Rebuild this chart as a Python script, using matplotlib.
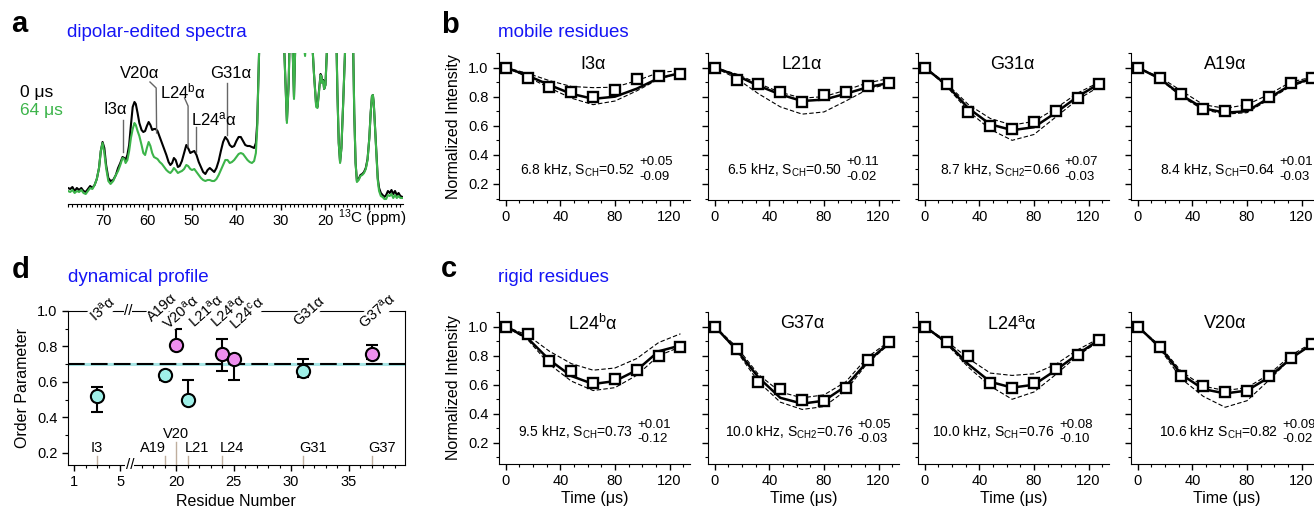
import matplotlib
matplotlib.use('Agg')
from matplotlib import pyplot as plt
from matplotlib.ticker import MultipleLocator, FixedLocator, NullFormatter

plt.rcParams['font.family'] = ['Liberation Sans', 'DejaVu Sans']
plt.rcParams['mathtext.fontset'] = 'custom'
plt.rcParams['mathtext.rm'] = 'Liberation Sans'
plt.rcParams['mathtext.it'] = 'Liberation Sans:italic'
plt.rcParams['mathtext.bf'] = 'Liberation Sans:bold'

# ---------------- panel a: spectra (ppm, intensity) ----------------
ppm_alpha = [78.0, 77.5, 77.0, 76.5, 76.0, 75.5, 75.0, 74.5, 74.0, 73.5, 73.0, 72.5, 72.0,
             71.5, 71.0, 70.6, 70.2, 69.8, 69.4, 68.9, 68.4, 67.8, 67.2, 66.7, 66.2, 65.7,
             65.3, 65.0, 64.6, 64.2, 63.8, 63.4, 63.0, 62.7, 62.3, 61.9, 61.4, 61.0, 60.6,
             60.2, 59.8, 59.4, 59.0, 58.6, 58.2, 57.8, 57.3, 56.8, 56.3, 55.8, 55.3, 54.9,
             54.5, 54.1, 53.7, 53.2, 52.8, 52.3, 51.8, 51.3, 50.9, 50.4, 50.0, 49.5, 49.0,
             48.5, 48.0, 47.5, 47.0, 46.5, 46.0, 45.5, 45.0, 44.5, 44.0, 43.5, 43.0, 42.5,
             42.0, 41.5, 41.0, 40.5, 40.0, 39.5, 39.0, 38.5, 38.0, 37.5, 37.0, 36.5, 36.0,
             35.6, 35.3]
alpha_0us = [5, 4, 6, 2, 5, 3, 5, 2, 1, 4, 7, 5, 8,
             14, 25, 42, 51, 45, 28, 15, 12, 13, 18, 25, 30, 36,
             35, 33, 38, 48, 68, 86, 91, 89, 80, 70, 63, 61, 62,
             67, 71, 68, 63, 64, 64, 62, 56, 50, 44, 38, 31, 28,
             30, 35, 33, 26, 27, 32, 40, 48, 45, 40, 41, 42, 38,
             31, 26, 21, 19, 23, 25, 23, 21, 25, 32, 42, 51, 56,
             53, 48, 46, 47, 52, 56, 56, 52, 48, 47, 47, 46, 45,
             50, 70]
alpha_64us = [2, 1, 3, 0, 2, 1, 3, 0, -1, 2, 5, 4, 8,
              14, 25, 42, 50, 40, 25, 12, 9, 12, 18, 22, 28, 35,
              34, 30, 33, 42, 55, 64, 70, 68, 62, 57, 48, 40, 38,
              45, 51, 47, 40, 36, 35, 34, 31, 29, 26, 23, 21, 20,
              22, 25, 23, 20, 21, 22, 24, 28, 27, 24, 23, 24, 21,
              18, 15, 13, 12, 13, 13, 12, 12, 14, 18, 23, 28, 33,
              33, 30, 31, 33, 36, 39, 40, 39, 36, 33, 31, 30, 32,
              40, 65]

ppm_ali = [35.0, 34.7, 34.0, 30.0, 29.5, 29.0, 28.6, 28.2, 27.9, 27.4, 27.0, 26.7, 26.2,
           24.5, 23.5, 23.0, 22.5, 22.0, 21.7, 21.3, 21.0, 20.8, 20.6, 20.4, 20.2, 19.9,
           19.5, 19.0, 18.0, 17.5, 17.2, 16.9, 16.6, 16.3, 15.9, 15.5, 15.0, 14.0, 13.7,
           13.4, 13.1, 12.8, 12.4, 12.0, 11.6, 11.2, 10.8, 10.4, 10.0, 9.7, 9.4, 9.2,
           9.0, 8.7, 8.4, 8.1, 7.8, 7.4, 7.0, 6.6, 6.2, 5.8, 5.4, 5.0, 4.6, 4.2, 3.8,
           3.4, 3.0, 2.5]
ali_0us = [120, 170, 220, 220, 180, 120, 72, 110, 170, 160, 96, 150, 200,
           200, 200, 160, 120, 88, 86, 105, 119, 117, 110, 113, 104, 108,
           150, 210, 220, 170, 100, 50, 31, 45, 90, 140, 200, 200, 160,
           80, 30, 12, 14, 18, 19, 21, 25, 34, 55, 80, 97, 98,
           90, 65, 40, 15, 5, 0, -2, -4, -2, 2, 0, 3, -1, 2, -2,
           0, -3, -4]
ali_64us = [120, 170, 220, 220, 180, 120, 70, 110, 170, 160, 94, 150, 200,
            137, 200, 160, 120, 86, 85, 104, 118, 116, 110, 112, 104, 108,
            150, 210, 220, 170, 100, 50, 30, 45, 90, 140, 200, 200, 160,
            80, 30, 11, 13, 17, 18, 20, 24, 33, 55, 80, 97, 98,
            90, 65, 40, 13, 2, -3, -4, -6, -6, -2, -3, -1, -5, -2, -5,
            -3, -5, -5]

spec_labels = ['I3α', 'V20α', 'L24$^{\\rm b}$α', 'L24$^{\\rm a}$α', 'G31α']
spec_label_xy = [(67.4, 83), (61.9, 120), (52.0, 102), (45.0, 74), (41.2, 120)]
spec_leaders = [([65.7, 65.7], [73, 41]),
                ([59.5, 58.1, 58.0], [111, 105, 60]),
                ([51.7, 50.9, 50.9], [95, 87, 46]),
                ([49.1, 49.1], [66, 41]),
                ([42.1, 42.1], [110, 58])]

# ---------------- panels b, c: dephasing curves ----------------
times = [0, 16, 32, 48, 64, 80, 96, 112, 128]

i3_meas = [1.0, 0.93, 0.867, 0.833, 0.80, 0.847, 0.922, 0.945, 0.954]
i3_fit = [1.0, 0.945, 0.88, 0.82, 0.785, 0.80, 0.855, 0.927, 0.962]
i3_hi = [1.0, 0.96, 0.91, 0.87, 0.862, 0.865, 0.91, 0.965, 0.98]
i3_lo = [1.0, 0.935, 0.86, 0.79, 0.745, 0.77, 0.84, 0.92, 0.965]

l21_meas = [1.0, 0.915, 0.888, 0.83, 0.76, 0.81, 0.833, 0.874, 0.897]
l21_fit = [1.0, 0.945, 0.875, 0.815, 0.77, 0.78, 0.82, 0.865, 0.895]
l21_hi = [1.0, 0.955, 0.89, 0.83, 0.79, 0.80, 0.845, 0.895, 0.925]
l21_lo = [1.0, 0.925, 0.82, 0.73, 0.68, 0.695, 0.77, 0.85, 0.89]

g31_meas = [1.0, 0.886, 0.696, 0.60, 0.577, 0.627, 0.70, 0.792, 0.89]
g31_fit = [1.0, 0.88, 0.72, 0.61, 0.57, 0.59, 0.69, 0.80, 0.89]
g31_hi = [1.0, 0.89, 0.745, 0.65, 0.605, 0.63, 0.72, 0.825, 0.90]
g31_lo = [1.0, 0.87, 0.70, 0.575, 0.50, 0.54, 0.66, 0.78, 0.87]

a19_meas = [1.0, 0.927, 0.82, 0.714, 0.703, 0.746, 0.797, 0.897, 0.927]
a19_fit = [1.0, 0.925, 0.81, 0.72, 0.69, 0.70, 0.79, 0.88, 0.925]
a19_hi = [1.0, 0.935, 0.84, 0.745, 0.72, 0.745, 0.815, 0.90, 0.935]
a19_lo = [1.0, 0.92, 0.80, 0.71, 0.68, 0.69, 0.78, 0.87, 0.92]

l24b_meas = [1.0, 0.947, 0.76, 0.696, 0.61, 0.641, 0.703, 0.80, 0.86]
l24b_fit = [1.0, 0.92, 0.77, 0.66, 0.605, 0.625, 0.70, 0.83, 0.87]
l24b_hi = [1.0, 0.94, 0.83, 0.745, 0.70, 0.715, 0.78, 0.89, 0.95]
l24b_lo = [1.0, 0.91, 0.74, 0.625, 0.56, 0.58, 0.665, 0.80, 0.86]

g37_meas = [1.0, 0.845, 0.618, 0.57, 0.497, 0.486, 0.577, 0.77, 0.897]
g37_fit = [1.0, 0.84, 0.65, 0.51, 0.47, 0.49, 0.59, 0.76, 0.89]
g37_hi = [1.0, 0.86, 0.67, 0.55, 0.51, 0.53, 0.62, 0.79, 0.90]
g37_lo = [1.0, 0.83, 0.62, 0.48, 0.43, 0.45, 0.56, 0.75, 0.88]

l24a_meas = [1.0, 0.893, 0.80, 0.609, 0.58, 0.609, 0.707, 0.806, 0.909]
l24a_fit = [1.0, 0.89, 0.74, 0.62, 0.58, 0.60, 0.70, 0.81, 0.91]
l24a_hi = [1.0, 0.90, 0.78, 0.68, 0.664, 0.675, 0.74, 0.84, 0.92]
l24a_lo = [1.0, 0.88, 0.72, 0.59, 0.50, 0.55, 0.67, 0.80, 0.90]

v20_meas = [1.0, 0.856, 0.657, 0.589, 0.547, 0.559, 0.657, 0.787, 0.879]
v20_fit = [1.0, 0.86, 0.67, 0.57, 0.54, 0.56, 0.65, 0.78, 0.88]
v20_hi = [1.0, 0.87, 0.69, 0.59, 0.56, 0.58, 0.67, 0.80, 0.89]
v20_lo = [1.0, 0.85, 0.64, 0.52, 0.445, 0.49, 0.63, 0.78, 0.88]

mobile_titles = ['I3α', 'L21α', 'G31α', 'A19α']
rigid_titles = ['L24$^{\\rm b}$α', 'G37α', 'L24$^{\\rm a}$α', 'V20α']
mobile_notes = ['6.8 kHz, S$_{\\rm CH}$=0.52', '6.5 kHz, S$_{\\rm CH}$=0.50',
                '8.7 kHz, S$_{\\rm CH2}$=0.66', '8.4 kHz, S$_{\\rm CH}$=0.64']
rigid_notes = ['9.5 kHz, S$_{\\rm CH}$=0.73', '10.0 kHz, S$_{\\rm CH2}$=0.76',
               '10.0 kHz, S$_{\\rm CH}$=0.76', '10.6 kHz S$_{\\rm CH}$=0.82']
mobile_plus = ['+0.05', '+0.11', '+0.07', '+0.01']
mobile_minus = ['-0.09', '-0.02', '-0.03', '-0.03']
rigid_plus = ['+0.01', '+0.05', '+0.08', '+0.09']
rigid_minus = ['-0.12', '-0.03', '-0.10', '-0.02']

# ---------------- panel d: order parameters ----------------
residues = [3, 19, 20, 21, 24, 25, 31, 37]
order_param = [0.52, 0.64, 0.81, 0.50, 0.76, 0.73, 0.66, 0.76]
err_plus = [0.05, 0.01, 0.09, 0.11, 0.08, 0.01, 0.07, 0.05]
err_minus = [0.09, 0.03, 0.02, 0.02, 0.10, 0.12, 0.03, 0.03]
is_rigid = [False, False, True, False, True, True, False, True]
top_labels = ['I3$^{\\rm a}$α', 'A19α', 'V20$^{\\rm a}$α', 'L21$^{\\rm a}$α',
              'L24$^{\\rm a}$α', 'L24$^{\\rm c}$α', 'G31α', 'G37$^{\\rm a}$α']
bottom_labels = ['I3', 'A19', 'V20', 'L21', 'L24', 'G31', 'G37']
bottom_label_res = [3, 19, 20, 21, 24, 31, 37]
s_threshold = 0.7

W, H = 1314, 512
fig = plt.figure(figsize=(W / 100, H / 100), dpi=100)


def rect(left, top, right, bottom):
    return [left / W, 1 - bottom / H, (right - left) / W, (bottom - top) / H]


def ftext(x, y, s, **kw):
    fig.text(x / W, 1 - y / H, s, **kw)


def res_pos(r):
    # broken residue axis: 1..6 then 16..40
    return r if r <= 6 else r - 10.13


blue = '#1515f5'
green = '#3cb44a'

# panel letters and headers
for letter, x, y in [('a', 11, 32), ('b', 441, 33), ('c', 441, 277), ('d', 12, 278)]:
    ftext(x, y, letter, fontsize=21, fontweight='bold', va='baseline')
for title, x, y in [('dipolar-edited spectra', 67, 37), ('mobile residues', 498, 37),
                    ('rigid residues', 498, 282), ('dynamical profile', 68, 282)]:
    ftext(x, y, title, fontsize=13.5, color=blue, va='baseline')

# ---------------- panel a ----------------
ax = fig.add_axes(rect(68, 53, 403, 204))
ax.plot(ppm_alpha + ppm_ali, alpha_0us + ali_0us, color='black', lw=1.5)
ax.plot(ppm_alpha + ppm_ali, alpha_64us + ali_64us, color=green, lw=1.5)
ax.set_xlim(78, 2.4)
ax.set_ylim(-11, 140)
for s in ['left', 'right', 'top']:
    ax.spines[s].set_visible(False)
ax.set_yticks([])
ax.set_xticks([70, 60, 50, 40, 30, 20, 10])
ax.set_xticklabels(['70', '60', '50', '40', '30', '20', ''])
ax.xaxis.set_minor_locator(MultipleLocator(1))
ax.tick_params(axis='x', which='major', direction='out', length=4, width=1, labelsize=10.5, pad=3)
ax.tick_params(axis='x', which='minor', direction='out', length=2, width=0.8)
ax.text(1.012, -0.093, '$^{13}$C (ppm)', transform=ax.transAxes, ha='right', va='center', fontsize=11)
for lab, (lx, ly), (px, py) in zip(spec_labels, spec_label_xy, spec_leaders):
    ax.text(lx, ly, lab, ha='center', va='center', fontsize=12)
    ax.plot(px, py, color='#666666', lw=1)
ftext(20, 93, '0 μs', fontsize=12.5, va='center')
ftext(20, 110, '64 μs', fontsize=12.5, va='center', color=green)

# ---------------- panels b, c ----------------
mobile = [(i3_meas, i3_fit, i3_hi, i3_lo), (l21_meas, l21_fit, l21_hi, l21_lo),
          (g31_meas, g31_fit, g31_hi, g31_lo), (a19_meas, a19_fit, a19_hi, a19_lo)]
rigid = [(l24b_meas, l24b_fit, l24b_hi, l24b_lo), (g37_meas, g37_fit, g37_hi, g37_lo),
         (l24a_meas, l24a_fit, l24a_hi, l24a_lo), (v20_meas, v20_fit, v20_hi, v20_lo)]
col_left = [499, 708, 918, 1131]
mobile_note_x = [95, 93.5, 99.5, 100.5]
rigid_note_x = [93.5, 101.5, 95.5, 103]

rows = [(53, 200, (0.09, 1.10), mobile, mobile_titles, mobile_notes, mobile_plus, mobile_minus,
         mobile_note_x, (0.296, 0.35, 0.25)),
        (312, 464, (0.055, 1.10), rigid, rigid_titles, rigid_notes, rigid_plus, rigid_minus,
         rigid_note_x, (0.275, 0.326, 0.227))]

for top, bottom, ylim, series, titles, notes, plus, minus, note_x, note_y in rows:
    for i, left in enumerate(col_left):
        meas, fit, hi, lo = series[i]
        ax = fig.add_axes(rect(left, top, left + 191, bottom))
        ax.plot(times, hi, color='black', lw=0.8, dashes=(4, 2))
        ax.plot(times, lo, color='black', lw=0.8, dashes=(4, 2))
        ax.plot(times, fit, color='black', lw=1.8)
        ax.plot(times, meas, 's', mfc='white', mec='black', mew=1.7, ms=7.5, ls='none', clip_on=False)
        ax.set_xlim(-5, 135)
        ax.set_ylim(*ylim)
        ax.spines['top'].set_visible(False)
        ax.spines['right'].set_visible(False)
        ax.set_xticks([0, 40, 80, 120])
        ax.xaxis.set_minor_locator(MultipleLocator(10))
        ax.set_yticks([0.2, 0.4, 0.6, 0.8, 1.0])
        ax.yaxis.set_minor_locator(MultipleLocator(0.1))
        ax.tick_params(which='major', direction='out', length=4, width=1, labelsize=10.5)
        ax.tick_params(which='minor', direction='out', length=2, width=0.8)
        if i == 0:
            ax.set_ylabel('Normalized Intensity', fontsize=11.5, labelpad=5)
        else:
            ax.yaxis.set_major_formatter(NullFormatter())
        if series is rigid:
            ax.set_xlabel('Time (μs)', fontsize=11.5, labelpad=2)
        ax.text(64, 1.02, titles[i], ha='center', va='center', fontsize=13)
        ax.text(note_x[i], note_y[0], notes[i], ha='right', va='center', fontsize=10)
        ax.text(note_x[i] + 3, note_y[1], plus[i], ha='left', va='center', fontsize=9.5)
        ax.text(note_x[i] + 3, note_y[2], minus[i], ha='left', va='center', fontsize=9.5)

# ---------------- panel d ----------------
ax = fig.add_axes(rect(67.7, 311, 405, 465))
ax.set_xlim(0.45, 29.78)
ax.set_ylim(0.132, 1.0)
ax.axhline(s_threshold, color='#a8e6e6', lw=2.2, zorder=1)
ax.axhline(s_threshold, color='black', lw=1.5, dashes=(8, 3), zorder=1.5)
upos = [res_pos(r) for r in residues]
ax.errorbar(upos, order_param, yerr=[err_minus, err_plus], fmt='none', ecolor='black',
            elinewidth=1.5, capsize=4, capthick=1.5, zorder=3)
for u, s, rig in zip(upos, order_param, is_rigid):
    ax.plot(u, s, 'o', ms=9.5, mfc='#ee8eee' if rig else '#9ff0e8', mec='black', mew=1.5, zorder=4)

major_res = [1, 5, 20, 25, 30, 35]
minor_res = [2, 3, 4, 17, 18, 19, 21, 22, 23, 24, 26, 27, 28, 29, 31, 32, 33, 34, 36, 37, 38, 39]
ax.xaxis.set_major_locator(FixedLocator([res_pos(r) for r in major_res]))
ax.xaxis.set_minor_locator(FixedLocator([res_pos(r) for r in minor_res]))
ax.set_xticklabels([str(r) for r in major_res])
ax.set_yticks([0.2, 0.4, 0.6, 0.8, 1.0])
ax.set_yticklabels(['0.2', '0.4', '0.6', '0.8', '1.0'])
ax.yaxis.set_minor_locator(MultipleLocator(0.1))
ax.tick_params(which='major', direction='out', length=4, width=1, labelsize=10.5)
ax.tick_params(which='minor', direction='out', length=2, width=0.8)
ax.set_xlabel('Residue Number', fontsize=11.5, labelpad=3)
ax.set_ylabel('Order Parameter', fontsize=11.5, labelpad=5)

top_label_res = [3.5, 18.8, 20.4, 22.6, 24.5, 26.2, 31.6, 37.5]
top_label_y = [1.01, 1.02, 0.99, 1.0, 1.0, 0.99, 1.0, 1.0]
for lab, r, y in zip(top_labels, top_label_res, top_label_y):
    ax.text(res_pos(r), y, lab, rotation=42, ha='center', va='center', fontsize=10.5,
            bbox=dict(fc='white', ec='none', pad=0.3), clip_on=False, zorder=5)

label_ha = ['center', 'right', 'center', 'left', 'left', 'left', 'left']
label_dx = [0, 0.15, 0, -0.25, -0.2, -0.3, -0.25]
for lab, r, ha, dx in zip(bottom_labels, bottom_label_res, label_ha, label_dx):
    tall = lab == 'V20'
    ax.plot([res_pos(r), res_pos(r)], [0.132, 0.26 if tall else 0.18], color='#bfae9e', lw=1, zorder=2)
    ax.text(res_pos(r) + dx, 0.265 if tall else 0.188, lab, ha=ha, va='bottom', fontsize=10.5)

for bx, by in [(5.85, 0.132), (5.7, 1.0)]:
    ax.text(bx, by, '//', ha='center', va='center', fontsize=11,
            bbox=dict(fc='white', ec='none', pad=0.1), clip_on=False, zorder=6)

fig.savefig('out.png', dpi=100)
